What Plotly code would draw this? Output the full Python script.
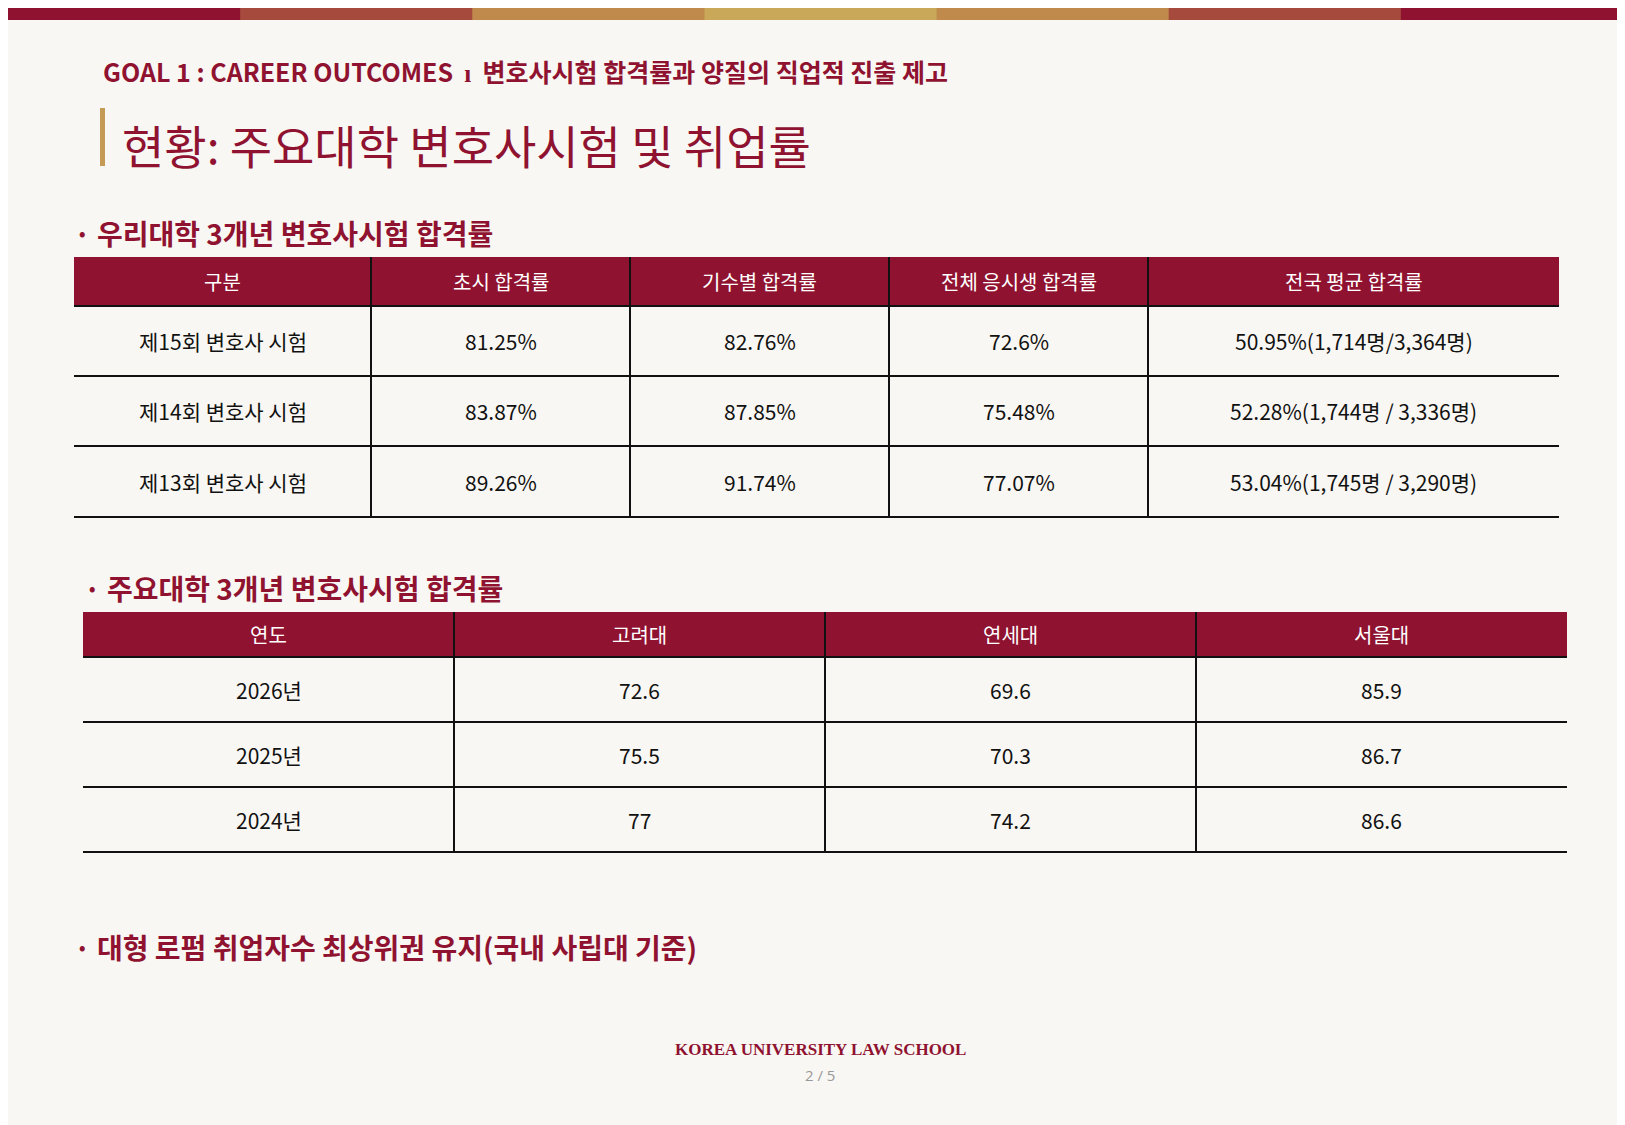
import plotly.graph_objects as go

W, H = 1625, 1125
CRIMSON = "#8f1230"
FONT = "Noto Sans CJK KR"

subtitle = "GOAL 1 : CAREER OUTCOMES  ı  변호사시험 합격률과 양질의 직업적 진출 제고"
title = "현황: 주요대학 변호사시험 및 취업률"
section1 = "· 우리대학 3개년 변호사시험 합격률"
section2 = "· 주요대학 3개년 변호사시험 합격률"
section3 = "· 대형 로펌 취업자수 최상위권 유지(국내 사립대 기준)"

t1_header = ["구분", "초시 합격률", "기수별 합격률", "전체 응시생 합격률", "전국 평균 합격률"]
t1_rows = ["제15회 변호사 시험", "제14회 변호사 시험", "제13회 변호사 시험"]
t1_first = ["81.25%", "83.87%", "89.26%"]
t1_cohort = ["82.76%", "87.85%", "91.74%"]
t1_all = ["72.6%", "75.48%", "77.07%"]
t1_nat = ["50.95%(1,714명/3,364명)", "52.28%(1,744명 / 3,336명)", "53.04%(1,745명 / 3,290명)"]

t2_header = ["연도", "고려대", "연세대", "서울대"]
t2_years = ["2026년", "2025년", "2024년"]
korea = ["72.6", "75.5", "77"]
yonsei = ["69.6", "70.3", "74.2"]
snu = ["85.9", "86.7", "86.6"]

fig = go.Figure()
shapes, ann = [], []

def txt(x, y, s, size, color="#111", xanchor="center", family=FONT, **kw):
    ann.append(dict(x=x, y=y, text=s, showarrow=False, xanchor=xanchor, yanchor="middle",
                    font=dict(size=size, color=color, family=family), **kw))

def line(x0, y0, x1, y1, color="#111", w=2):
    shapes.append(dict(type="line", x0=x0, y0=y0, x1=x1, y1=y1, line=dict(color=color, width=w)))

# top gradient bar
grad = ["#8f1230", "#a54a3c", "#bf8a4c", "#c9a85a", "#bf8a4c", "#a54a3c", "#8f1230"]
n = len(grad)
for i, c in enumerate(grad):
    shapes.append(dict(type="rect", x0=i * W / n, x1=(i + 1) * W / n + 1, y0=0, y1=12,
                       fillcolor=c, line=dict(width=0)))

txt(93, 63, "<b>" + subtitle + "</b>", 25, CRIMSON, "left")
shapes.append(dict(type="rect", x0=92, x1=97, y0=100, y1=158, fillcolor="#c49a55", line=dict(width=0)))
txt(112, 136, title, 46, CRIMSON, "left")
txt(64, 225, "<b>" + section1 + "</b>", 28, CRIMSON, "left")
txt(74, 580, "<b>" + section2 + "</b>", 28, CRIMSON, "left")
txt(64, 939, "<b>" + section3 + "</b>", 28, CRIMSON, "left")

def table(x_edges, y_edges, header, cols, hsize):
    shapes.append(dict(type="rect", x0=x_edges[0], x1=x_edges[-1], y0=y_edges[0], y1=y_edges[1],
                       fillcolor=CRIMSON, line=dict(width=0)))
    for j, h in enumerate(header):
        txt((x_edges[j] + x_edges[j + 1]) / 2, (y_edges[0] + y_edges[1]) / 2, h, hsize, "white")
    for i in range(1, len(y_edges)):
        line(x_edges[0], y_edges[i], x_edges[-1], y_edges[i])
    for xe in x_edges[1:-1]:
        line(xe, y_edges[0], xe, y_edges[-1])
    for j, col in enumerate(cols):
        for i, v in enumerate(col):
            txt((x_edges[j] + x_edges[j + 1]) / 2, (y_edges[i + 1] + y_edges[i + 2]) / 2, v, 21)

table([66, 363, 622, 881, 1140, 1551], [249, 298, 368, 438, 509], t1_header,
      [t1_rows, t1_first, t1_cohort, t1_all, t1_nat], 20)
table([75, 446, 817, 1188, 1559], [604, 649, 714, 779, 844], t2_header,
      [t2_years, korea, yonsei, snu], 20)

txt(812, 1041, "<b>KOREA UNIVERSITY LAW SCHOOL</b>", 17, CRIMSON, family="Liberation Serif")
txt(812, 1067, "2 / 5", 15, "#999", family="Open Sans")

fig.update_layout(
    width=W, height=H, margin=dict(l=0, r=0, t=0, b=0),
    paper_bgcolor="#f9f7f3", plot_bgcolor="#f9f7f3",
    xaxis=dict(range=[0, W], visible=False, fixedrange=True),
    yaxis=dict(range=[H, 0], visible=False, fixedrange=True),
    shapes=shapes, annotations=ann, showlegend=False,
)
fig.write_html("out.html")
